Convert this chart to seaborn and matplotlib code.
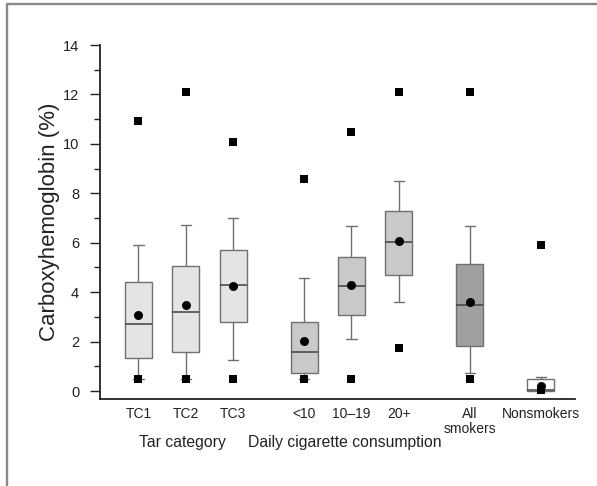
import matplotlib
matplotlib.use("Agg")
import matplotlib.pyplot as plt
import matplotlib.transforms as mtransforms
from matplotlib.lines import Line2D
from matplotlib.ticker import MultipleLocator
import numpy as np
import pandas as pd
import seaborn as sns

# groups and five-number summaries
groups = ["TC1", "TC2", "TC3", "<10", "10–19", "20+", "All smokers", "Nonsmokers"]
tick_labels = ["TC1", "TC2", "TC3", "<10", "10–19", "20+", "All\nsmokers", "Nonsmokers"]
whisker_low = [0.48, 0.48, 1.26, 0.50, 2.09, 3.60, 0.74, 0.00]
q1 = [1.32, 1.60, 2.79, 0.73, 3.07, 4.69, 1.84, 0.00]
median = [2.72, 3.20, 4.31, 1.58, 4.24, 6.02, 3.47, 0.05]
q3 = [4.42, 5.08, 5.71, 2.78, 5.43, 7.30, 5.13, 0.47]
whisker_high = [5.92, 6.72, 7.00, 4.58, 6.68, 8.51, 6.68, 0.57]
means = [3.08, 3.49, 4.24, 2.04, 4.29, 6.06, 3.62, 0.20]
max_vals = [10.93, 12.08, 10.08, 8.56, 10.49, 12.08, 12.08, 5.91]
min_vals = [0.48, 0.48, 0.48, 0.48, 0.48, 1.74, 0.48, 0.03]

# x placement (gaps between the groups)
x_pos = [0, 1, 2, 3.5, 4.5, 5.5, 7, 8.5]
box_colors = ["#e4e4e6", "#e4e4e6", "#e4e4e6", "#c9c9cb", "#c9c9cb", "#c9c9cb",
              "#a0a0a2", "#ffffff"]

rows = []
for g, x, a, b, c, d, e in zip(groups, x_pos, whisker_low, q1, median, q3, whisker_high):
    for v in (a, b, c, d, e):
        rows.append({"group": g, "x": x, "value": v})
df = pd.DataFrame(rows)

sns.set_style("ticks")
plt.rcParams["font.family"] = ["Liberation Sans", "DejaVu Sans"]

fig = plt.figure(figsize=(5.97, 4.86), dpi=100)
ax = fig.add_axes([100 / 597, 87 / 486, 475 / 597, 354 / 486])

sns.boxplot(data=df, x="x", y="value", hue="group", hue_order=groups,
            palette=dict(zip(groups, box_colors)), native_scale=True, dodge=False,
            width=0.57, whis=np.inf, linecolor="#707070", linewidth=1.0,
            medianprops={"color": "#404040", "linewidth": 1.1},
            capwidths=0.22, legend=False, ax=ax)

sns.scatterplot(x=x_pos + x_pos, y=min_vals + max_vals, marker="s", color="black",
                s=28, linewidth=0, zorder=4, ax=ax)
sns.scatterplot(x=x_pos, y=means, marker="o", color="black", s=42, linewidth=0,
                zorder=5, ax=ax)

ax.set_xlim(-0.81, 9.22)
ax.set_ylim(-0.32, 14)
ax.yaxis.set_major_locator(MultipleLocator(2))
ax.yaxis.set_minor_locator(MultipleLocator(1))
ax.set_xticks(x_pos)
ax.set_xticklabels(tick_labels, fontsize=10, color="#222222", linespacing=1.1)
ax.tick_params(axis="x", length=0, pad=6)
ax.tick_params(axis="y", which="major", length=7, width=1.0, labelsize=10.5, pad=8,
               color="#222222", labelcolor="#222222")
ax.tick_params(axis="y", which="minor", length=4, width=1.0, color="#222222")
ax.set_xlabel("")
ax.set_ylabel("Carboxyhemoglobin (%)", fontsize=16, color="#222222", labelpad=2)

sns.despine(ax=ax)
for side in ("left", "bottom"):
    ax.spines[side].set_linewidth(1.3)
    ax.spines[side].set_color("#222222")
ax.spines["left"].set_bounds(-0.32, 14)

trans = mtransforms.blended_transform_factory(ax.transData, ax.transAxes)
ax.text(0.935, -0.123, "Tar category", transform=trans, ha="center", va="center",
        fontsize=11.3, color="#222222")
ax.text(4.35, -0.123, "Daily cigarette consumption", transform=trans, ha="center",
        va="center", fontsize=11.3, color="#222222")

# grey frame around the figure (top and left edges visible)
fx, fy = 7 / 597, 1 - 4 / 486
fig.add_artist(Line2D([fx, fx], [0, fy], transform=fig.transFigure, color="#8a8a8a", lw=1.7))
fig.add_artist(Line2D([fx, 1], [fy, fy], transform=fig.transFigure, color="#8a8a8a", lw=1.7))

fig.savefig("out.png", dpi=100)
